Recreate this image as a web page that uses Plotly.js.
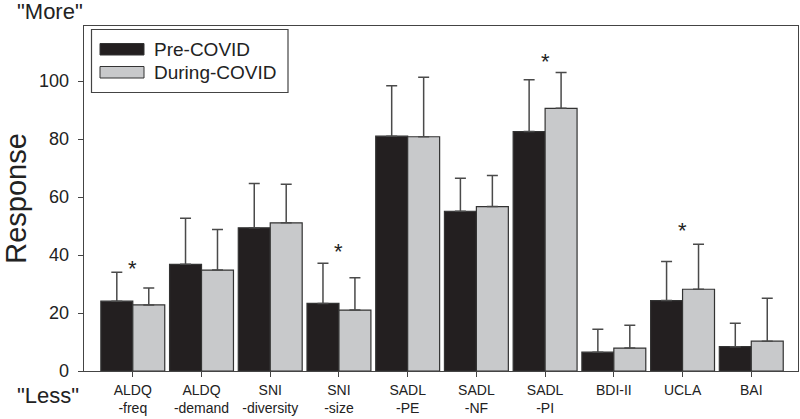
<!DOCTYPE html>
<html lang="en">
<head>
    <meta charset="UTF-8">
    <title>Pre vs During COVID responses</title>
    <script src="https://cdn.plot.ly/plotly-3.0.1.min.js"></script>
    <style>
        body { margin: 0; background: white; }
        #plot { width: 800px; height: 419px; }
    </style>
</head>
<body>
    <div id="plot"></div>
    <script>
        // values
        const categories = ['ALDQ<br>-freq', 'ALDQ<br>-demand', 'SNI<br>-diversity', 'SNI<br>-size',
            'SADL<br>-PE', 'SADL<br>-NF', 'SADL<br>-PI', 'BDI-II', 'UCLA', 'BAI'];
        const seriesNames = ['Pre-COVID', 'During-COVID'];
        const preValues = [24.1, 36.8, 49.4, 23.3, 81.0, 55.1, 82.6, 6.5, 24.3, 8.4];
        const duringValues = [22.8, 34.8, 51.1, 21.0, 80.8, 56.7, 90.6, 7.9, 28.2, 10.3];
        const preSD = [10.0, 15.9, 15.3, 13.9, 17.4, 11.4, 17.9, 7.9, 13.5, 8.1];
        const duringSD = [5.8, 14.0, 13.3, 11.2, 20.5, 10.7, 12.4, 7.9, 15.5, 14.8];
        const sigIndex = [0, 3, 6, 8];
        const sigY = [35.5, 41.2, 106.8, 48.3];

        const W = 800, H = 419;
        const margin = {l: 84, r: 2, t: 26, b: 48};
        const font = 'Liberation Sans, Arial, sans-serif';
        const colors = ['#231f20', '#c8c9cb'];

        // pixel -> paper helpers for the legend box and corner labels
        const px = x => (x - margin.l) / (W - margin.l - margin.r);
        const py = y => (H - margin.b - y) / (H - margin.t - margin.b);

        const xs = categories.map((c, i) => i);

        function barTrace(name, values, sd, color) {
            return {
                type: 'bar',
                name: name,
                x: xs,
                y: values,
                marker: {color: color, line: {color: '#333333', width: 1.2}},
                error_y: {
                    type: 'data',
                    symmetric: false,
                    array: sd,
                    arrayminus: sd.map(() => 0),
                    color: '#4a4a4a',
                    thickness: 1.5,
                    width: 5.5
                },
                showlegend: false,
                hoverinfo: 'y'
            };
        }

        const traces = [
            barTrace(seriesNames[0], preValues, preSD, colors[0]),
            barTrace(seriesNames[1], duringValues, duringSD, colors[1])
        ];

        const annotations = sigIndex.map((ci, k) => ({
            x: ci, y: sigY[k], xref: 'x', yref: 'y',
            text: '*', showarrow: false,
            font: {family: font, size: 22, color: '#222'}
        }));

        annotations.push(
            {x: px(15), y: py(11), xref: 'paper', yref: 'paper', xanchor: 'left', yanchor: 'middle',
             text: '"More"', showarrow: false, font: {family: font, size: 22, color: '#222'}},
            {x: px(15), y: py(395), xref: 'paper', yref: 'paper', xanchor: 'left', yanchor: 'middle',
             text: '"Less"', showarrow: false, font: {family: font, size: 22, color: '#222'}}
        );

        // hand-made legend with wide swatches
        const shapes = [{
            type: 'rect', xref: 'paper', yref: 'paper',
            x0: px(91.5), x1: px(288), y0: py(92.5), y1: py(29.5),
            line: {color: '#444', width: 1.2}, fillcolor: 'white'
        }];
        const swatchTop = [43.5, 66.5];
        seriesNames.forEach((name, i) => {
            shapes.push({
                type: 'rect', xref: 'paper', yref: 'paper',
                x0: px(100), x1: px(144), y0: py(swatchTop[i] + 11.5), y1: py(swatchTop[i]),
                line: {color: '#333', width: 1}, fillcolor: colors[i]
            });
            annotations.push({
                x: px(152), y: py(swatchTop[i] + 6), xref: 'paper', yref: 'paper',
                xanchor: 'left', yanchor: 'middle', text: name, showarrow: false,
                font: {family: font, size: 19, color: '#222'}
            });
        });

        const layout = {
            width: W,
            height: H,
            margin: margin,
            paper_bgcolor: 'white',
            plot_bgcolor: 'white',
            barmode: 'group',
            bargap: 0.07,
            bargroupgap: 0,
            showlegend: false,
            font: {family: font, color: '#222'},
            xaxis: {
                range: [-0.71, 9.68],
                tickmode: 'array',
                tickvals: xs,
                ticktext: categories,
                ticks: 'outside',
                ticklen: 5,
                tickcolor: '#444',
                ticklabelstandoff: 1,
                showline: true,
                mirror: true,
                linecolor: '#444',
                linewidth: 1.3,
                showgrid: false,
                zeroline: false,
                tickfont: {family: font, size: 14, color: '#222'}
            },
            yaxis: {
                range: [0, 119],
                tickvals: [0, 20, 40, 60, 80, 100],
                ticks: 'outside',
                ticklen: 5,
                tickcolor: '#444',
                ticklabelstandoff: 5,
                showline: true,
                mirror: true,
                linecolor: '#444',
                linewidth: 1.3,
                showgrid: false,
                zeroline: false,
                tickfont: {family: font, size: 18, color: '#222'},
                title: {text: 'Response', font: {family: font, size: 29, color: '#222'}, standoff: 13}
            },
            shapes: shapes,
            annotations: annotations
        };

        Plotly.newPlot('plot', traces, layout, {displayModeBar: false, staticPlot: true});
    </script>
</body>
</html>
